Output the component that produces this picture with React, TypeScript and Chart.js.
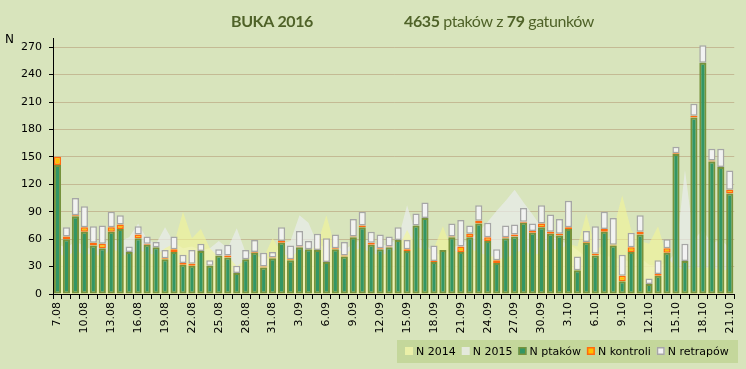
import React, { useEffect, useRef } from 'react';
import { Chart, registerables } from 'chart.js';

Chart.register(...registerables);

const categories = [
  '7.08', '8.08', '9.08', '10.08', '11.08', '12.08', '13.08', '14.08', '15.08', '16.08',
  '17.08', '18.08', '19.08', '20.08', '21.08', '22.08', '23.08', '24.08', '25.08', '26.08',
  '27.08', '28.08', '29.08', '30.08', '31.08', '1.09', '2.09', '3.09', '4.09', '5.09',
  '6.09', '7.09', '8.09', '9.09', '10.09', '11.09', '12.09', '13.09', '14.09', '15.09',
  '16.09', '17.09', '18.09', '19.09', '20.09', '21.09', '22.09', '23.09', '24.09', '25.09',
  '26.09', '27.09', '28.09', '29.09', '30.09', '1.10', '2.10', '3.10', '4.10', '5.10',
  '6.10', '7.10', '8.10', '9.10', '10.10', '11.10', '12.10', '13.10', '14.10', '15.10',
  '16.10', '17.10', '18.10', '19.10', '20.10', '21.10',
];

const nPtakow = [
  141, 60, 85, 68, 53, 50, 68, 71, 46, 61,
  54, 51, 38, 46, 32, 31, 47, 31, 42, 40,
  23, 38, 45, 29, 39, 56, 37, 51, 49, 48,
  35, 49, 41, 62, 73, 54, 49, 51, 59, 47,
  75, 83, 35, 48, 62, 46, 62, 77, 58, 34,
  61, 63, 78, 67, 73, 66, 64, 71, 26, 56,
  42, 68, 53, 14, 46, 65, 11, 20, 45, 153,
  36, 193, 253, 145, 139, 110,
];

const nKontroli = [
  9, 3, 1, 5, 3, 5, 5, 5, 0, 4,
  1, 0, 1, 3, 2, 2, 0, 0, 0, 2,
  0, 0, 1, 1, 1, 2, 1, 1, 0, 0,
  0, 1, 1, 1, 2, 2, 1, 1, 0, 2,
  0, 0, 1, 0, 1, 6, 4, 3, 4, 3,
  1, 2, 1, 2, 4, 2, 2, 2, 0, 1,
  2, 3, 1, 6, 5, 3, 0, 2, 5, 1,
  0, 2, 0, 1, 0, 4,
];

const nRetrapow = [
  0, 10, 19, 23, 18, 20, 17, 10, 6, 9,
  8, 6, 9, 14, 9, 15, 8, 6, 7, 12,
  8, 10, 13, 15, 6, 15, 15, 17, 9, 18,
  26, 15, 15, 19, 15, 12, 15, 11, 14, 10,
  13, 17, 17, 0, 14, 29, 9, 17, 16, 12,
  13, 11, 15, 8, 20, 19, 16, 29, 15, 12,
  30, 19, 29, 23, 16, 18, 6, 15, 10, 7,
  19, 13, 19, 13, 20, 21,
];

const n2014 = [
  45, 40, 48, 42, 45, 40, 50, 45, 40, 48,
  45, 42, 50, 55, 90, 61, 71, 50, 40, 42,
  30, 38, 42, 40, 61, 45, 40, 48, 45, 55,
  86, 50, 45, 48, 50, 45, 42, 45, 50, 70,
  52, 48, 50, 74, 48, 45, 50, 45, 42, 40,
  38, 45, 48, 42, 45, 50, 48, 55, 52, 88,
  50, 52, 70, 108, 70, 58, 55, 74, 40, 30,
  25, 30, 28, 30, 25, 28,
];

const n2015 = [
  55, 50, 58, 52, 48, 55, 60, 58, 62, 77,
  60, 55, 73, 56, 50, 52, 48, 50, 58, 50,
  72, 45, 42, 38, 40, 55, 58, 86, 78, 55,
  50, 52, 48, 55, 60, 58, 52, 55, 60, 97,
  65, 55, 45, 42, 50, 55, 60, 68, 79, 91,
  102, 114, 100, 87, 73, 65, 58, 55, 48, 40,
  45, 42, 40, 38, 35, 40, 32, 30, 35, 45,
  136, 60, 70, 55, 60, 50,
];

const yTicks = [0, 30, 60, 90, 120, 150, 180, 210, 240, 270];

const titleLeft = 'BUKA 2016';
const titleRight = [
  { t: '4635', b: true },
  { t: ' ptaków z ', b: false },
  { t: '79', b: true },
  { t: ' gatunków', b: false },
];

const BG = '#d8e4bc';
const GREEN = 'rgb(50,150,100)';
const OLIVE = 'rgb(118,146,60)';
const ORANGE = '#ffc000';
const ORANGE_B = '#ff6a10';
const WHITE = '#f2f2f2';
const WHITE_B = '#a6a6a6';
const YELLOW = 'rgba(243,245,150,0.6)';
const GREY = 'rgba(233,236,236,0.7)';

const legendItems = [
  { label: 'N 2014', fill: 'rgb(234,240,168)', border: null },
  { label: 'N 2015', fill: 'rgb(228,233,220)', border: null },
  { label: 'N ptaków', fill: GREEN, border: OLIVE },
  { label: 'N kontroli', fill: ORANGE, border: ORANGE_B },
  { label: 'N retrapów', fill: WHITE, border: WHITE_B },
];

const decor = {
  id: 'decor',
  beforeDraw(chart: any) {
    const { ctx, width, height } = chart;
    ctx.save();
    ctx.fillStyle = BG;
    ctx.fillRect(0, 0, width, height);
    ctx.restore();
  },
  afterDraw(chart: any) {
    const { ctx } = chart;
    ctx.save();
    // title
    ctx.fillStyle = '#4f6228';
    ctx.textBaseline = 'alphabetic';
    try { (ctx as any).letterSpacing = '-0.4px'; } catch (e) { /* ignore */ }
    ctx.font = 'bold 16px Lato';
    ctx.fillText(titleLeft, 231, 27);
    let x = 404;
    for (const seg of titleRight) {
      ctx.font = (seg.b ? 'bold ' : '') + '16px Lato';
      ctx.fillText(seg.t, x, 27);
      x += ctx.measureText(seg.t).width;
    }
    try { (ctx as any).letterSpacing = '0px'; } catch (e) { /* ignore */ }
    // N axis label
    ctx.fillStyle = '#000';
    ctx.font = '12px "DejaVu Sans"';
    ctx.fillText('N', 5, 43);
    // legend
    ctx.fillStyle = '#c4d79b';
    ctx.fillRect(397, 340, 341, 23);
    ctx.font = '11px "DejaVu Sans"';
    ctx.textBaseline = 'middle';
    let lx = 405;
    for (const it of legendItems) {
      ctx.fillStyle = it.fill;
      ctx.fillRect(lx, 347, 8, 8);
      if (it.border) {
        ctx.strokeStyle = it.border;
        ctx.lineWidth = 1.5;
        ctx.strokeRect(lx + 0.75, 347.75, 6.5, 6.5);
      }
      ctx.fillStyle = '#000';
      ctx.fillText(it.label, lx + 11, 352);
      lx += 11 + ctx.measureText(it.label).width + 6;
    }
    ctx.restore();
  },
};

export default function App() {
  const ref = useRef<HTMLCanvasElement | null>(null);
  useEffect(() => {
    if (!ref.current) return;
    Chart.defaults.font.family = '"DejaVu Sans"';
    const barCommon = {
      stack: 'b',
      order: 0,
      borderSkipped: false,
      barPercentage: 0.8,
      categoryPercentage: 1.0,
    };
    const chart = new Chart(ref.current, {
      type: 'bar',
      data: {
        labels: categories,
        datasets: [
          { ...barCommon, label: 'N ptaków', data: nPtakow, backgroundColor: GREEN, borderColor: OLIVE, borderWidth: 2 } as any,
          { ...barCommon, label: 'N kontroli', data: nKontroli, backgroundColor: ORANGE, borderColor: ORANGE_B, borderWidth: 1.5 } as any,
          { ...barCommon, label: 'N retrapów', data: nRetrapow, backgroundColor: WHITE, borderColor: WHITE_B, borderWidth: 1.5 } as any,
          {
            type: 'line', label: 'N 2014', data: n2014, stack: 's14', order: 1,
            fill: 'origin', backgroundColor: YELLOW, borderWidth: 0, pointRadius: 0, tension: 0,
          } as any,
          {
            type: 'line', label: 'N 2015', data: n2015, stack: 's15', order: 2,
            fill: 'origin', backgroundColor: GREY, borderWidth: 0, pointRadius: 0, tension: 0,
          } as any,
        ],
      },
      options: {
        responsive: false,
        animation: false,
        layout: { padding: { top: 38, right: 6, left: 0, bottom: 0 } },
        plugins: {
          legend: { display: false },
          tooltip: { enabled: false },
          title: { display: false },
        },
        scales: {
          x: {
            stacked: true,
            offset: true,
            grid: { display: true, drawOnChartArea: false, drawTicks: true, tickLength: 5, tickColor: '#000', offset: true },
            border: { display: true, color: '#000', width: 1 },
            ticks: {
              autoSkip: false,
              maxRotation: 90,
              minRotation: 90,
              padding: 3,
              color: '#000',
              font: { size: 11, family: '"DejaVu Sans"' },
              callback: (_v: any, i: number) => (i % 3 === 0 ? categories[i] : ''),
            },
            afterFit: (s: any) => { s.height = 75; },
          },
          y: {
            stacked: true,
            min: 0,
            max: 280,
            grid: { color: 'rgb(196,186,148)', lineWidth: 1, tickLength: 4, tickColor: '#000', drawTicks: true },
            border: { display: true, color: '#000', width: 1 },
            ticks: {
              stepSize: 30,
              padding: 7,
              color: '#000',
              font: { size: 11, family: '"DejaVu Sans"' },
            },
            afterBuildTicks: (axis: any) => {
              axis.ticks = yTicks.map((v) => ({ value: v }));
            },
            afterFit: (s: any) => { s.width = 53; },
          },
        },
      } as any,
      plugins: [decor],
    });
    return () => chart.destroy();
  }, []);
  return (
    <div style={{ position: 'absolute', left: 0, top: 0, width: 746, height: 369, background: BG }}>
      <canvas ref={ref} width={746} height={369} style={{ display: 'block' }} />
    </div>
  );
}
